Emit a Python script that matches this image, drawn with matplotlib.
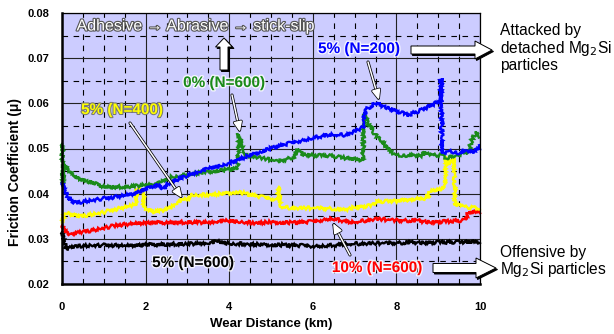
import matplotlib
matplotlib.use("Agg")
import matplotlib.pyplot as plt
import matplotlib.patheffects as pe
from matplotlib.patches import Polygon
from matplotlib.ticker import MultipleLocator

plt.rcParams["font.family"] = ["Liberation Sans", "DejaVu Sans"]

# 5% SiC, N=600 (black)
km_k = [0, 0.03, 0.1, 0.2, 0.4, 0.7, 1.0, 1.5, 2.0, 2.5, 3.0, 3.5, 3.7, 4.0, 4.5, 5.0, 5.5,
        6.0, 6.5, 7.0, 7.5, 8.0, 8.5, 9.0, 9.5, 10]
mu_k = [0.0315, 0.0300, 0.0277, 0.0280, 0.0284, 0.0285, 0.0286, 0.0285, 0.0287, 0.0288, 0.0289,
        0.0290, 0.0294, 0.0290, 0.0288, 0.0287, 0.0286, 0.0284, 0.0286, 0.0289, 0.0290, 0.0291,
        0.0292, 0.0292, 0.0293, 0.0293]

# 10% N=600 (red)
km_r = [0, 0.05, 0.2, 0.5, 0.8, 1.0, 1.3, 1.6, 2.0, 2.5, 3.0, 3.5, 4.0, 4.3, 4.6, 5.0, 5.5,
        6.0, 6.45, 6.9, 7.1, 7.5, 8.0, 8.5, 8.85, 9.3, 9.65, 9.72, 10]
mu_r = [0.0330, 0.0318, 0.0310, 0.0315, 0.0320, 0.0324, 0.0330, 0.0333, 0.0336, 0.0336, 0.0337,
        0.0336, 0.0340, 0.0338, 0.0335, 0.0337, 0.0336, 0.0338, 0.0346, 0.0336, 0.0338, 0.0344,
        0.0341, 0.0340, 0.0337, 0.0339, 0.0341, 0.0358, 0.0360]

# 5% N=400 (yellow)
km_y = [0, 0.05, 0.1, 0.4, 0.9, 1.4, 1.7, 1.77, 1.78, 1.95, 1.96, 2.2, 2.5, 2.87, 3.04, 3.06,
        3.5, 4.2, 4.8, 5.15, 5.18, 5.22, 5.5, 6.0, 6.5, 6.7, 7.0, 7.45, 7.5, 8.0, 8.7, 8.78,
        8.8, 9.1, 9.15, 9.2, 9.25, 9.3, 9.35, 9.38, 9.4, 9.7, 10]
mu_y = [0.0335, 0.0352, 0.0357, 0.0349, 0.0357, 0.0368, 0.0375, 0.0377, 0.0410, 0.0408, 0.0370,
        0.0360, 0.0365, 0.0386, 0.0388, 0.0398, 0.0397, 0.0404, 0.0392, 0.0387, 0.0415, 0.0371,
        0.0368, 0.0368, 0.0367, 0.0363, 0.0370, 0.0374, 0.0382, 0.0384, 0.0390, 0.0396, 0.0405,
        0.0410, 0.0420, 0.0482, 0.0475, 0.0465, 0.0482, 0.0480, 0.0376, 0.0370, 0.0368]

# 5% N=200 (blue)
km_b = [0, 0.05, 0.15, 0.27, 0.5, 0.9, 1.3, 1.7, 2.0, 2.27, 2.42, 2.58, 3.0, 3.5, 4.0, 4.4,
        4.8, 5.2, 5.6, 6.0, 6.4, 6.8, 7.17, 7.22, 7.24, 7.5, 7.8, 8.1, 8.28, 8.6, 8.92, 9.05,
        9.07, 9.09, 9.1, 9.3, 9.5, 9.7, 9.85, 10]
mu_b = [0.0425, 0.0410, 0.0390, 0.0379, 0.0382, 0.0388, 0.0393, 0.0400, 0.0410, 0.0420, 0.0412,
        0.0425, 0.0440, 0.0455, 0.0468, 0.0482, 0.0495, 0.0506, 0.0515, 0.0524, 0.0530, 0.0530,
        0.0545, 0.0548, 0.0585, 0.0600, 0.0590, 0.0580, 0.0574, 0.0585, 0.0600, 0.0605, 0.0656,
        0.0520, 0.0490, 0.0494, 0.0490, 0.0495, 0.0492, 0.0505]

# 0% N=600 (green)
km_g = [0, 0.02, 0.05, 0.1, 0.18, 0.31, 0.6, 1.03, 1.5, 1.99, 2.3, 2.62, 3.0, 3.42, 3.8, 4.2,
        4.22, 4.3, 4.38, 4.78, 5.17, 5.57, 5.65, 5.75, 5.97, 6.4, 6.77, 7.2, 7.23, 7.32, 7.5,
        7.72, 7.97, 8.13, 8.6, 8.68, 8.75, 9.08, 9.2, 9.5, 9.7, 9.75, 9.8, 9.92, 10]
mu_g = [0.0510, 0.0420, 0.0465, 0.0458, 0.0450, 0.0437, 0.0428, 0.0415, 0.0415, 0.0419, 0.0422,
        0.0437, 0.0442, 0.0448, 0.0452, 0.0456, 0.0534, 0.0505, 0.0485, 0.0479, 0.0471, 0.0482,
        0.0499, 0.0488, 0.0485, 0.0484, 0.0479, 0.0474, 0.0580, 0.0556, 0.0530, 0.0508, 0.0485,
        0.0485, 0.0484, 0.0493, 0.0486, 0.0485, 0.0479, 0.0486, 0.0490, 0.0500, 0.0519, 0.0537,
        0.0526]

W, H = 614, 334
fig = plt.figure(figsize=(W / 100, H / 100), dpi=100)
ax = fig.add_axes([62 / W, 1 - 284 / H, (480 - 62) / W, (284 - 13) / H])
ax.set_facecolor("#CCCCFF")


def fx(x):
    return x / W


def fy(y):
    return 1 - y / H


# grid
ax.set_xlim(0, 10)
ax.set_ylim(0.02, 0.08)
ax.xaxis.set_major_locator(MultipleLocator(2))
ax.xaxis.set_minor_locator(MultipleLocator(0.5))
ax.yaxis.set_major_locator(MultipleLocator(0.01))
ax.yaxis.set_minor_locator(MultipleLocator(0.005))
ax.grid(which="major", color="#222222", lw=0.8, ls="-")
ax.grid(which="minor", color="black", lw=0.8, ls=(0, (5, 5)))
ax.set_axisbelow(True)
ax.tick_params(which="both", length=0)
ax.tick_params(axis="x", pad=13)
ax.tick_params(axis="y", pad=9)
for lab in ax.get_xticklabels() + ax.get_yticklabels():
    lab.set_fontweight("bold")
    lab.set_fontsize(8)
ax.yaxis.set_major_formatter(matplotlib.ticker.FormatStrFormatter("%.2f"))
ax.xaxis.set_major_formatter(matplotlib.ticker.FormatStrFormatter("%d"))
for s in ["left", "bottom"]:
    ax.spines[s].set_linewidth(1.8)
for s in ["top", "right"]:
    ax.spines[s].set_linewidth(0.9)

series = [(km_k, mu_k, "black"), (km_r, mu_r, "#FF0000"), (km_y, mu_y, "#FFFF00"),
          (km_g, mu_g, "#1A8A1A"), (km_b, mu_b, "#0000FF")]
for xs, ys, c in series:
    ln, = ax.plot(xs, ys, color=c, lw=1.7, solid_joinstyle="miter", clip_on=False)
    ln.set_sketch_params(scale=1.6, length=1.2, randomness=2)

fig.text(fx(15), fy(172), "Friction Coefficient (\u03bc)", rotation=90, ha="center",
         va="center", fontsize=10, fontweight="bold")
fig.text(fx(271), fy(324), "Wear Distance (km)", ha="center", va="center",
         fontsize=9.5, fontweight="bold")

halo = [pe.withStroke(linewidth=2, foreground="white", alpha=0.8)]
fig.text(fx(196), fy(26), "Adhesive \u2192 Abrasive \u2192 stick-slip", ha="center",
         va="center", fontsize=11.5, color="white",
         path_effects=[pe.withStroke(linewidth=1.6, foreground="#555555")])

labels = [(224, 83, "0% (N=600)", "#1A8A1A"), (122, 110, "5% (N=400)", "#FFFF00"),
          (359, 49, "5% (N=200)", "#0000FF"), (193, 263, "5% (N=600)", "black"),
          (377, 268, "10% (N=600)", "#FF0000")]
for x, y, t, c in labels:
    eff = halo if c != "#FFFF00" else [pe.withStroke(linewidth=1.5, foreground="#777777")]
    fig.text(fx(x), fy(y), t, ha="center", va="center", fontsize=11,
             fontweight="bold", color=c, path_effects=eff)

# thin pointer arrows
pointers = [((232, 95), (240, 132)), ((130, 123), (182, 198)),
            ((368, 62), (379, 100)), ((350, 255), (333, 223))]
for (x0, y0), (x1, y1) in pointers:
    ax.annotate("", xy=(fx(x1), fy(y1)), xytext=(fx(x0), fy(y0)),
                xycoords="figure fraction", textcoords="figure fraction",
                arrowprops=dict(arrowstyle="-|>,head_length=0.6,head_width=0.25",
                                color="white", lw=1.1, shrinkA=0, shrinkB=0,
                                path_effects=[pe.withStroke(linewidth=2.2,
                                                            foreground="black")]))


def block_arrow(x0, x1, yc, sw, hw, hl, vertical=False):
    # pixel outline of a block arrow; right-pointing or up-pointing
    if not vertical:
        pts = [(x0, yc - sw), (x1 - hl, yc - sw), (x1 - hl, yc - hw), (x1, yc),
               (x1 - hl, yc + hw), (x1 - hl, yc + sw), (x0, yc + sw)]
    else:
        # x0: bottom y, x1: tip y, yc: centre x
        pts = [(yc - sw, x0), (yc - sw, x1 + hl), (yc - hw, x1 + hl), (yc, x1),
               (yc + hw, x1 + hl), (yc + sw, x1 + hl), (yc + sw, x0)]
    for off, fc in [(1.5, "black"), (0, "white")]:
        poly = Polygon([(fx(px + off), fy(py + off)) for px, py in pts], closed=True,
                       transform=fig.transFigure, fc=fc, ec="black", lw=0.7,
                       zorder=5)
        fig.patches.append(poly)


block_arrow(411, 492, 50, 4, 9, 17)
block_arrow(433, 496, 268, 4.5, 10, 20)
block_arrow(70, 38, 224, 4, 8.5, 9, vertical=True)

fig.text(fx(500), fy(48), "Attacked by\ndetached Mg$_2$Si\nparticles", ha="left",
         va="center", fontsize=11.2, linespacing=1.05)
fig.text(fx(500), fy(262), "Offensive by\nMg$_2$Si particles", ha="left",
         va="center", fontsize=11.2, linespacing=1.05)

fig.savefig("out.png", dpi=100)
